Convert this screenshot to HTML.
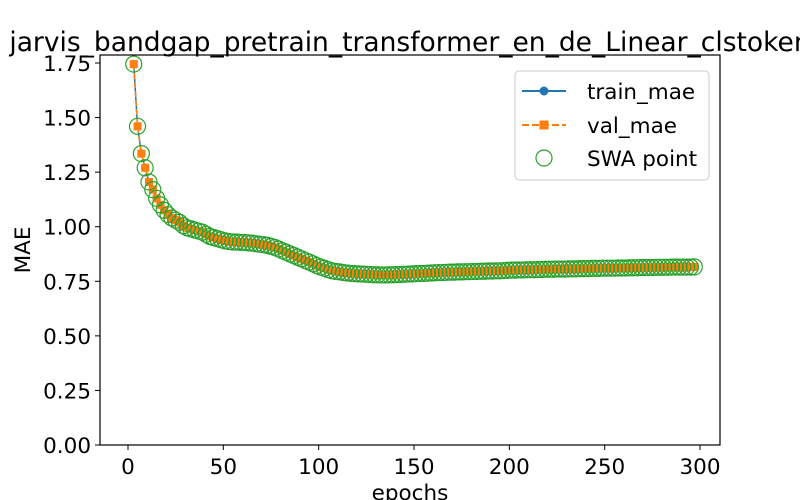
<!DOCTYPE html>
<html><head><meta charset="utf-8"><style>body{margin:0;background:#fff}svg{display:block;font-family:"DejaVu Sans","Liberation Sans",sans-serif}</style></head>
<body>
<svg id="chart" width="800" height="500" viewBox="0 0 800 500">
<rect width="800" height="500" fill="#fff"/>
<g id="marks"></g>
<rect x="100" y="55" width="620" height="390" fill="none" stroke="#000" stroke-width="1.2"/>
<g id="axes"></g>
<text x="410" y="51" font-size="26.5" text-anchor="middle">jarvis_bandgap_pretrain_transformer_en_de_Linear_clstoken</text>
<text x="410" y="500" font-size="21.5" text-anchor="middle">epochs</text>
<text x="30" y="250" font-size="21.5" text-anchor="middle" transform="rotate(-90 30 250)">MAE</text>
<g>
<rect x="515" y="71" width="194" height="109" rx="4" fill="#fff" fill-opacity="0.8" stroke="#ccc"/>
<g><line x1="522" y1="91" x2="566" y2="91" stroke="#1f77b4" stroke-width="2"/><circle cx="544" cy="91" r="4.5" fill="#1f77b4"/><text x="587" y="99" font-size="21.5">train_mae</text></g>
<g><line x1="522" y1="125" x2="566" y2="125" stroke="#ff7f0e" stroke-width="2" stroke-dasharray="7,3"/><rect x="539.5" y="120.5" width="9" height="9" fill="#ff7f0e"/><text x="587" y="133" font-size="21.5">val_mae</text></g>
<g><circle cx="544" cy="158" r="8" fill="none" stroke="#2ca02c" stroke-width="1.2"/><text x="587" y="166" font-size="21.5">SWA point</text></g>
</g>
</svg>
<script>
const valMae = [1.745,1.46,1.335,1.27,1.205,1.17,1.13,1.10,1.075,1.055,1.04,1.03,1.02,1.005,0.995,0.99,0.985,0.98,0.975,0.965,0.955,0.95,0.945,0.94,0.935,0.932,
0.93,0.93,0.928,0.928,0.926,0.925,0.922,0.92,0.918,0.915,0.91,0.905,0.898,0.89,0.883,0.875,0.868,0.86,0.853,0.845,0.838,0.83,0.822,
0.815,0.81,0.803,0.798,0.795,0.793,0.79,0.788,0.786,0.785,0.784,0.783,0.782,0.781,0.78,0.78,0.779,0.779,0.78,0.78,0.781,0.781,0.782,0.783,0.784,
0.785,0.786,0.786,0.787,0.788,0.789,0.79,0.79,0.791,0.792,0.792,0.793,0.793,0.794,0.794,0.795,0.795,0.796,0.796,0.797,0.797,0.798,0.798,0.799,0.8,
0.801,0.801,0.802,0.802,0.803,0.803,0.803,0.804,0.804,0.805,0.805,0.805,0.806,0.806,0.806,0.807,0.807,0.807,0.808,0.808,0.808,0.809,0.809,0.809,0.81,
0.81,0.81,0.81,0.811,0.811,0.811,0.812,0.812,0.812,0.813,0.813,0.813,0.813,0.814,0.814,0.814,0.814,0.815,0.815,0.815,0.815,0.815,0.815,0.816];
const trainMae = valMae.slice();
const swaMae = valMae.slice();
const firstEpoch = 3, epochStep = 2;
const epochs = valMae.map((_, i) => firstEpoch + i * epochStep);
const xTicks = [0,50,100,150,200,250,300];
const yTicks = [0,0.25,0.5,0.75,1.0,1.25,1.5,1.75];
const yTickLabels = ["0.00","0.25","0.50","0.75","1.00","1.25","1.50","1.75"];

const NS = "http://www.w3.org/2000/svg";
const X = v => 128 + (v - 0) * (572 / 300);
const Y = v => 445 - v * (382 / 1.75);
function mk(tag, attrs, parent) { const e = document.createElementNS(NS, tag); for (const k in attrs) e.setAttribute(k, attrs[k]); parent.appendChild(e); return e; }
const marks = document.getElementById('marks');
const axes = document.getElementById('axes');

const tp = epochs.map((e, i) => X(e) + ',' + Y(trainMae[i])).join(' ');
const tl = mk('polyline', {points: tp, fill: 'none', stroke: '#1f77b4', 'stroke-width': 1.5}, marks);


epochs.forEach((e, i) => {
  const c = mk('circle', {cx: X(e), cy: Y(trainMae[i]), r: 4, fill: '#1f77b4'}, marks);
  
  
});
const vp = epochs.map((e, i) => X(e) + ',' + Y(valMae[i])).join(' ');
const vl = mk('polyline', {points: vp, fill: 'none', stroke: '#ff7f0e', 'stroke-width': 1.5, 'stroke-dasharray': '6,3'}, marks);


epochs.forEach((e, i) => {
  const r = mk('rect', {x: X(e) - 4, y: Y(valMae[i]) - 4, width: 8, height: 8, fill: '#ff7f0e'}, marks);
  
  
});
epochs.forEach((e, i) => {
  const c = mk('circle', {cx: X(e), cy: Y(swaMae[i]), r: 8, fill: 'none', stroke: '#2ca02c', 'stroke-width': 1.2}, marks);
  
  
});
xTicks.forEach(t => {
  const g = mk('g', {}, axes);
  
  
  mk('line', {x1: X(t), x2: X(t), y1: 445, y2: 450, stroke: '#000'}, g);
  const tx = mk('text', {x: X(t), y: 474, 'font-size': 21.5, 'text-anchor': 'middle'}, g);
  tx.textContent = t;
});
yTicks.forEach((t, i) => {
  const g = mk('g', {}, axes);
  
  
  mk('line', {x1: 95, x2: 100, y1: Y(t), y2: Y(t), stroke: '#000'}, g);
  const tx = mk('text', {x: 91, y: Y(t) + 8, 'font-size': 21.5, 'text-anchor': 'end'}, g);
  tx.textContent = yTickLabels[i];
});
</script>
</body></html>
